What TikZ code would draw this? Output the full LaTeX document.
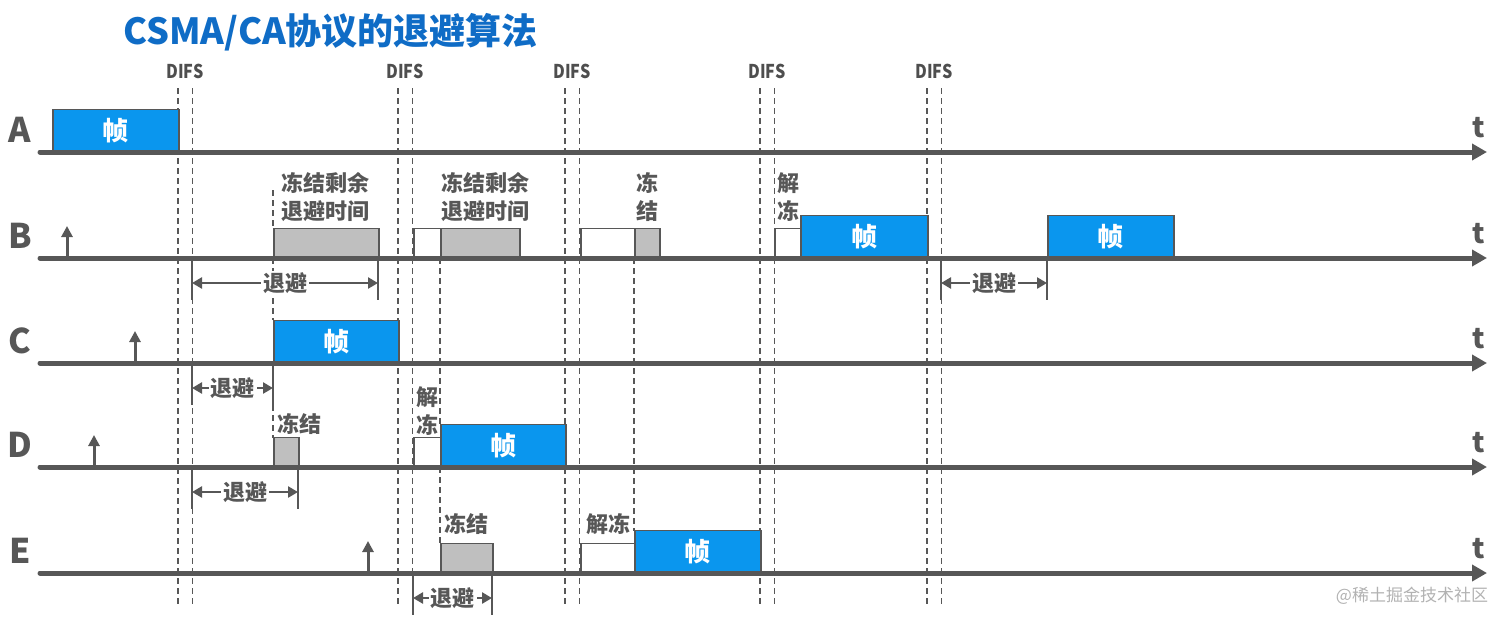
\documentclass[tikz,border=0pt]{standalone}
\usepackage{fontspec}
\setmainfont{Noto Sans CJK SC}
\usetikzlibrary{arrows.meta}
\definecolor{lineg}{HTML}{575757}
\definecolor{frameb}{HTML}{0A96EE}
\definecolor{slotg}{HTML}{BFBFBF}
\definecolor{titleb}{HTML}{0F6CC6}

\begin{document}
\begin{tikzpicture}[x=1pt, y=-1pt,
  timeline/.style={line width=5pt, draw=lineg, line cap=round, -{Triangle[length=15pt,width=16pt]}},
  arrival/.style={line width=3pt, draw=lineg, -{Triangle[length=11pt,width=11pt]}},
  difs/.style={line width=1.3pt, draw=lineg, dash pattern=on 6pt off 4pt},
  bar/.style={line width=1.5pt, draw=lineg},
  span/.style={line width=2.8pt, draw=lineg, {Triangle[length=10pt,width=11pt]}-{Triangle[length=10pt,width=11pt]}},
  spanlabel/.style={fill=white, text=lineg, inner sep=2pt, font=\bfseries\fontsize{22}{22}\selectfont},
  frame/.style={draw=lineg, line width=1.5pt, fill=frameb, text=white, inner sep=0pt, anchor=south west, minimum height=42pt, font=\bfseries\fontsize{26}{26}\selectfont},
  slot/.style={draw=lineg, line width=1.5pt, fill=slotg, inner sep=0pt, anchor=south west, minimum height=29pt},
  idle/.style={slot, fill=white},
  note/.style={text=lineg, align=center, inner sep=0pt, font=\bfseries\fontsize{22}{28}\selectfont},
  station/.style={text=lineg, font=\bfseries\fontsize{34}{34}\selectfont},
  tmark/.style={text=lineg, font=\bfseries\fontsize{28}{28}\selectfont},
  difslabel/.style={text=lineg!90!black, xscale=0.85, font=\bfseries\fontsize{19}{19}\selectfont}]

\useasboundingbox (0,0) rectangle (1512,627);

\node[anchor=west, text=titleb, font=\bfseries\fontsize{36}{36}\selectfont] (title) at (120,32) {CSMA/CA协议的退避算法};

\foreach \x [count=\i] in {178,398,565,760,927}{
  \draw[difs] (\x,88) -- (\x,607);
  \draw[difs] (\x+14.5,88) -- (\x+14.5,607);
  \node[difslabel] (difs\i) at (\x+7,71) {DIFS};
}

\draw[difs] (273,190) -- (273,229);
\draw[difs] (273,258) -- (273,320);
\draw[difs] (273,405) -- (273,438);
\draw[difs] (440,258) -- (440,427);
\draw[difs] (440,467) -- (440,543);
\draw[difs] (634,258) -- (634,531);

\node[frame, minimum width=126pt] (frA) at (52,152) {帧};
\node[frame, minimum width=127pt] (frB1) at (800,258) {帧};
\node[frame, minimum width=126pt] (frB2) at (1047,258) {帧};
\node[frame, minimum width=125pt] (frC) at (273,363) {帧};
\node[frame, minimum width=125pt] (frD) at (440,467) {帧};
\node[frame, minimum width=126pt] (frE) at (634,573) {帧};

\node[slot, minimum width=105pt] (slB1) at (273,258) {};
\node[idle, minimum width=27pt] (idB1) at (413,258) {};
\node[slot, minimum width=79pt] (slB2) at (440,258) {};
\node[idle, minimum width=54pt] (idB2) at (580,258) {};
\node[slot, minimum width=25pt] (slB3) at (634,258) {};
\node[idle, minimum width=26pt] (idB3) at (774,258) {};
\node[slot, minimum width=25pt] (slD) at (273,467) {};
\node[idle, minimum width=27pt] (idD) at (413,467) {};
\node[slot, minimum width=52pt] (slE) at (440,573) {};
\node[idle, minimum width=54pt] (idE) at (580,573) {};

\node[note] (nB1) at (325,197) {冻结剩余\\退避时间};
\node[note] (nB2) at (485,197) {冻结剩余\\退避时间};
\node[note] (nB3) at (647,197) {冻\\结};
\node[note] (nB4) at (788,197) {解\\冻};
\node[note] (nD1) at (299,424) {冻结};
\node[note] (nD2) at (427,411) {解\\冻};
\node[note] (nE1) at (466,524) {冻结};
\node[note] (nE2) at (608,524) {解冻};

\foreach \s/\y in {A/152,B/258,C/363,D/467,E/573}{
  \draw[timeline] (40,\y) -- (1487,\y);
  \node[station] (st\s) at (20,\y-22) {\s};
  \node[tmark] (t\s) at (1479,\y-24) {t};
}

\foreach \s/\x/\y in {B/67/258,C/135/363,D/94/467,E/368/573}{
  \coordinate (ar\s) at (\x,\y);
  \draw[arrival] (ar\s) -- ++(0,-32);
}

\foreach \l/\r/\y [count=\i] in {192/378/258,941/1047/258,192/273/363,192/298/467,413/492/573}{
  \coordinate (bl\i) at (\l,\y);
  \coordinate (br\i) at (\r,\y);
  \draw[bar] (bl\i) -- ++(0,42);
  \draw[bar] (br\i) -- ++(0,42);
  \draw[span] ([yshift=-25pt]bl\i) -- node[spanlabel] (bo\i) {退避} ([yshift=-25pt]br\i);
}

\node[text=gray!60, font=\fontsize{17}{17}\selectfont] (mark) at (1412,596) {@稀土掘金技术社区};

\end{tikzpicture}
\end{document}
